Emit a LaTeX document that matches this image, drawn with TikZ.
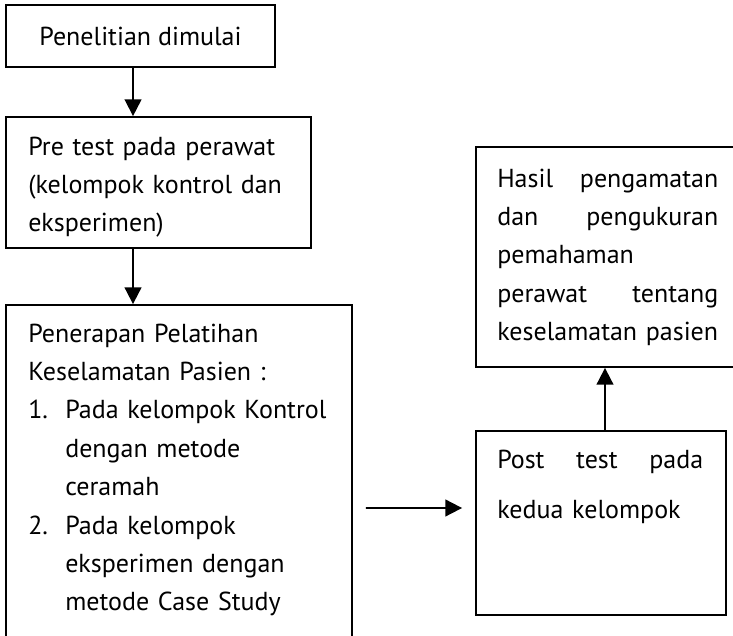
\documentclass[tikz,border=0pt]{standalone}
\usepackage{fontspec}
\setmainfont{PT Sans}
\usetikzlibrary{arrows.meta,positioning}
\newlength\px
\setlength\px{0.75pt}
\newcommand{\rata}[2]{\leavevmode\hbox to #1\px{#2}}

\begin{document}
\begin{tikzpicture}[x=0.75pt, y=-0.75pt,
	kotak/.style={draw, line width=1.35pt, inner sep=0pt},
	teks/.style={anchor=base west, inner sep=0pt, align=left, text width=#1\px},
	panah/.style={line width=1.4pt, -{Triangle[length=12.5pt, width=12.5pt]}}]
	\useasboundingbox (0,0) rectangle (733,636);
	\clip (0,0) rectangle (733,636);
	\fontsize{19.5}{28.8}\selectfont
	% kotak alur
	\node[kotak, minimum width=269\px, minimum height=62\px] (mulai) at (140.5,36) {Penelitian dimulai};
	\node[kotak, minimum width=305\px, minimum height=131\px] (pre) at (158.5,182.5) {};
	\node[kotak, minimum width=346\px, minimum height=355\px] (terap) at (179,482.5) {};
	\node[kotak, minimum width=250\px, minimum height=184\px] (post) at (601,523) {};
	\node[kotak, minimum width=284\px, minimum height=220\px] (hasil) at (618,257) {};
	% isi kotak
	\node[teks=280] (tpre) at (28,155) {Pre test pada perawat\\(kelompok kontrol dan\\eksperimen)};
	\node[teks=320] (tterap) at (28,342) {Penerapan Pelatihan\\Keselamatan Pasien :\\
		\makebox[37\px][l]{1.}Pada kelompok Kontrol\\\hspace*{37\px}dengan metode\\\hspace*{37\px}ceramah\\
		\makebox[37\px][l]{2.}Pada kelompok\\\hspace*{37\px}eksperimen dengan\\\hspace*{37\px}metode Case Study};
	\node[teks=230] (thasil) at (497,187) {\rata{221}{Hasil\hfill pengamatan}\\\rata{221}{dan\hfill pengukuran}\\pemahaman\\\rata{221}{perawat\hfill tentang}\\keselamatan pasien};
	\node[teks=230, font=\fontsize{19.5}{37.5}\selectfont] (tpost) at (497,468) {\rata{206}{Post\hfill test\hfill pada}\\kedua kelompok};
	% panah
	\draw[panah] ([xshift=-5.6pt]mulai.south) -- ([xshift=-19.1pt]pre.north);
	\draw[panah] ([xshift=-19.1pt]pre.south) -- ([xshift=-34.5pt]terap.north);
	\draw[panah, shorten <=9.75pt, shorten >=9.75pt] ([yshift=-19.1pt]terap.east) -- ([yshift=11.25pt]post.west);
	\draw[panah] ([xshift=3pt]post.north) -- ([xshift=3pt]post.north |- hasil.south);
\end{tikzpicture}
\end{document}
